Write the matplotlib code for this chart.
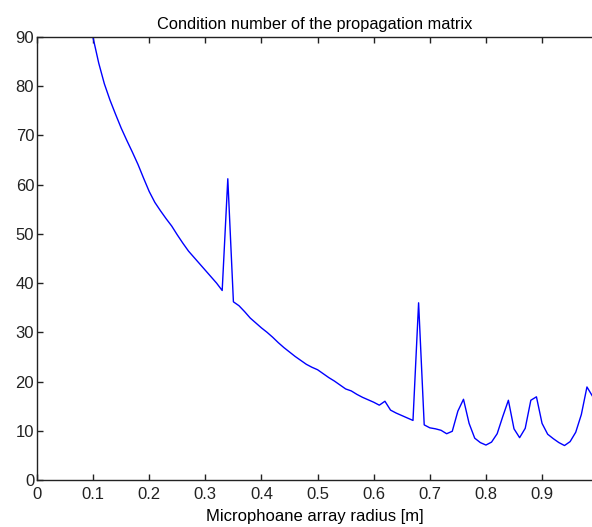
import numpy as np
import matplotlib
matplotlib.use("Agg")
import matplotlib.pyplot as plt

# array radius in metres, sampled every 1 cm
radius = np.round(np.arange(0.10, 0.995, 0.01), 2)

# condition number
cond_number = [
    89.8, 84.7, 80.5, 77.2, 74.3, 71.5, 69.0, 66.6, 64.1, 61.3,
    58.6, 56.4, 54.7, 53.1, 51.6, 49.8, 48.1, 46.5, 45.2, 43.9,
    42.6, 41.3, 40.0, 38.5, 61.2, 36.2, 35.4, 34.2, 32.9, 31.9,
    30.9, 30.0, 29.0, 27.9, 26.9, 26.0, 25.1, 24.3, 23.5, 22.9,
    22.4, 21.6, 20.8, 20.1, 19.3, 18.5, 18.1, 17.4, 16.8, 16.3,
    15.8, 15.2, 16.0, 14.2, 13.6, 13.1, 12.6, 12.1, 36.0, 11.2,
    10.6, 10.4, 10.1, 9.4, 9.9, 14.0, 16.4, 11.5, 8.5, 7.6,
    7.1, 7.7, 9.4, 12.9, 16.2, 10.4, 8.6, 10.5, 16.2, 16.9,
    11.5, 9.3, 8.4, 7.6, 7.0, 7.8, 9.7, 13.3, 18.9, 17.0,
]

xticks = [0, 0.1, 0.2, 0.3, 0.4, 0.5, 0.6, 0.7, 0.8, 0.9]
yticks = [0, 10, 20, 30, 40, 50, 60, 70, 80, 90]

plt.rcParams['font.family'] = ['Liberation Sans', 'DejaVu Sans']

fig = plt.figure(figsize=(5.92, 5.27), dpi=100)
ax = fig.add_axes([37 / 592, 47 / 527, 1 - 37 / 592, 443 / 527])

ax.plot(radius, cond_number, color='#0000ff', linewidth=1.0)

ax.set_xlim(0, 0.989)
ax.set_ylim(0, 90)
ax.set_xticks(xticks)
ax.set_xticklabels([f"{t:g}" for t in xticks])
ax.set_yticks(yticks)
ax.tick_params(direction='in', length=4, width=1, top=True, labelsize=12,
               colors='#222222')
ax.tick_params(axis='x', pad=5)
ax.tick_params(axis='y', pad=2)
ax.spines['right'].set_visible(False)
for s in ['left', 'top', 'bottom']:
    ax.spines[s].set_linewidth(1.0)
    ax.spines[s].set_color('#222222')

ax.set_title('Condition number of the propagation matrix', fontsize=11.8, pad=6)
ax.set_xlabel('Microphoane array radius [m]', fontsize=12, labelpad=5)

fig.savefig('out.png', dpi=100)
